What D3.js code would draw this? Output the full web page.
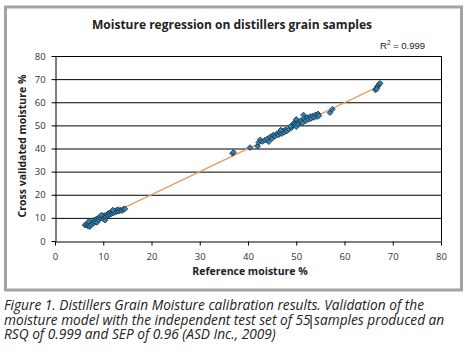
<!DOCTYPE html>
<html lang="en">
<head>
    <meta charset="UTF-8">
    <title>Moisture regression</title>
    <script src="https://cdn.jsdelivr.net/npm/d3@7/dist/d3.min.js"></script>
    <style>
        body { margin: 0; background: #fff; }
    </style>
</head>
<body>
<script type="application/javascript">
    // 参考值 vs 交叉验证值
    const lowCluster = [
        [6.2, 6.8], [6.5, 7.2], [6.8, 6.5], [7.0, 7.5], [7.2, 6.2], [7.4, 7.9], [7.5, 7.0],
        [7.8, 8.1], [8.0, 7.6], [8.1, 9.0], [8.3, 8.4], [8.5, 9.4], [8.7, 8.0], [8.9, 9.8],
        [9.0, 9.2], [9.2, 10.1], [9.5, 9.7], [9.8, 10.4], [10.0, 10.8], [10.1, 9.4], [10.3, 11.0],
        [10.4, 9.0], [10.6, 10.5], [10.8, 11.5], [11.0, 10.9], [11.1, 12.0], [11.3, 11.4],
        [11.5, 12.3], [11.7, 11.8], [11.9, 12.5], [12.1, 12.1], [12.3, 13.0], [12.5, 12.4],
        [12.7, 13.3], [12.9, 12.8], [13.1, 13.6], [13.3, 12.9], [13.6, 13.4], [13.9, 13.1],
        [14.2, 13.8], [14.5, 13.9], [7.0, 8.5], [9.6, 11.2], [12.0, 13.4]
    ];
    const midPoints = [[36.8, 37.9], [37.0, 38.4], [40.4, 40.4]];
    const highCluster = [
        [42.0, 41.0], [42.2, 42.6], [42.5, 43.8], [43.0, 43.0], [43.5, 43.6], [44.0, 44.2],
        [44.3, 42.9], [44.6, 45.0], [45.0, 44.3], [45.2, 45.8], [45.6, 45.3], [46.0, 46.5],
        [46.3, 45.8], [46.6, 47.0], [47.0, 46.4], [47.2, 47.6], [47.5, 47.0], [47.8, 48.2],
        [48.0, 47.5], [48.5, 48.3], [49.0, 49.0], [49.3, 50.2], [49.6, 51.2], [49.8, 50.5],
        [50.0, 49.4], [50.2, 51.8], [50.4, 50.6], [50.8, 51.5], [51.0, 52.2], [51.3, 51.0],
        [51.5, 54.5], [51.7, 52.8], [52.0, 52.0], [52.3, 53.4], [52.6, 52.6], [52.9, 53.8],
        [53.1, 53.0], [53.4, 54.1], [53.7, 53.4], [54.0, 54.6], [54.3, 53.8], [54.5, 55.0],
        [54.7, 54.2], [50.0, 52.6], [48.8, 49.6], [46.8, 48.0],
        [57.0, 55.5], [57.5, 57.0]
    ];
    const topCluster = [
        [66.4, 65.3], [66.6, 66.0], [66.8, 66.8], [67.0, 67.2], [67.2, 67.9], [67.4, 68.2], [66.7, 65.8]
    ];
    const dataset = lowCluster.concat(midPoints, highCluster, topCluster);

    // 回归线端点
    const fitLine = [[6.0, 6.1], [67.2, 67.0]];

    const xTicks = [0, 10, 20, 30, 40, 50, 60, 70, 80];
    const yTicks = [0, 10, 20, 30, 40, 50, 60, 70, 80];

    const captionLines = [
        'Figure 1. Distillers Grain Moisture calibration results. Validation of the',
        'moisture model with the independent test set of 55 samples produced an',
        'RSQ of 0.999 and SEP of 0.96 (ASD Inc., 2009)'
    ];

    const w = 467, h = 352;
    const plot = {left: 55, right: 441, top: 56, bottom: 241};

    let svg = d3.select('body')
        .append('svg')
        .attr('width', w)
        .attr('height', h);

    // 外框
    svg.append('rect')
        .attr('x', 5.5).attr('y', 7)
        .attr('width', 456).attr('height', 283)
        .attr('fill', '#fff')
        .attr('stroke', '#a3a3a3')
        .attr('stroke-width', 3);

    let xScale = d3.scaleLinear().domain([0, 80]).range([plot.left, plot.right]);
    let yScale = d3.scaleLinear().domain([0, 80]).range([plot.bottom, plot.top]);

    // 网格线
    svg.append('g')
        .selectAll('line')
        .data(yTicks.slice(1))
        .enter()
        .append('line')
        .attr('x1', plot.left).attr('x2', plot.right)
        .attr('y1', d => yScale(d) + 0.5).attr('y2', d => yScale(d) + 0.5)
        .attr('stroke', '#000')
        .attr('stroke-width', 1);

    svg.append('line')
        .attr('x1', plot.right + 0.5).attr('x2', plot.right + 0.5)
        .attr('y1', plot.top).attr('y2', plot.bottom)
        .attr('stroke', '#000');

    let xAxis = d3.axisBottom(xScale).tickValues(xTicks).tickSize(4).tickSizeOuter(0);
    let yAxis = d3.axisLeft(yScale).tickValues(yTicks).tickSize(4).tickSizeOuter(0);

    let gx = svg.append('g')
        .attr('transform', `translate(0,${plot.bottom + 0.5})`)
        .call(xAxis);
    let gy = svg.append('g')
        .attr('transform', `translate(${plot.left + 0.5},0)`)
        .call(yAxis);

    [gx, gy].forEach(g => {
        g.select('.domain').attr('stroke', '#000');
        g.selectAll('.tick line').attr('stroke', '#000');
        g.selectAll('.tick text')
            .attr('font-family', 'Open Sans, sans-serif')
            .attr('font-size', '9.5px')
            .attr('fill', '#333');
    });
    gx.selectAll('.tick text').attr('dy', '1.2em');
    gy.selectAll('.tick text').attr('dx', '-0.3em');

    // 回归线
    svg.append('line')
        .attr('x1', xScale(fitLine[0][0])).attr('y1', yScale(fitLine[0][1]))
        .attr('x2', xScale(fitLine[1][0])).attr('y2', yScale(fitLine[1][1]))
        .attr('stroke', '#e0a06a')
        .attr('stroke-width', 1.5);

    // 菱形点
    svg.append('g')
        .selectAll('path')
        .data(dataset)
        .enter()
        .append('path')
        .attr('d', d3.symbol().type(d3.symbolDiamond2).size(20))
        .attr('transform', d => `translate(${xScale(d[0])},${yScale(d[1])})`)
        .attr('fill', '#3580ad')
        .attr('stroke', '#132f45')
        .attr('stroke-width', 0.8);

    // 标题
    svg.append('text')
        .text('Moisture regression on distillers grain samples')
        .attr('x', 232).attr('y', 29)
        .attr('text-anchor', 'middle')
        .attr('font-family', 'Open Sans, sans-serif')
        .attr('font-weight', 'bold')
        .attr('font-size', '12px')
        .attr('fill', '#222');

    let r2 = svg.append('text')
        .attr('x', 380).attr('y', 49)
        .attr('font-family', 'Liberation Sans, Arial, sans-serif')
        .attr('font-size', '9.5px')
        .attr('fill', '#222');
    r2.append('tspan').text('R');
    r2.append('tspan').text('2').attr('font-size', '6.5px').attr('dy', '-4');
    r2.append('tspan').text(' = 0.999').attr('dy', '4');

    svg.append('text')
        .text('Reference moisture %')
        .attr('x', 250).attr('y', 275)
        .attr('text-anchor', 'middle')
        .attr('font-family', 'Open Sans, sans-serif')
        .attr('font-weight', 'bold')
        .attr('font-size', '10.5px')
        .attr('fill', '#222');

    svg.append('text')
        .text('Cross validated moisture %')
        .attr('transform', 'translate(26,146) rotate(-90)')
        .attr('text-anchor', 'middle')
        .attr('font-family', 'Open Sans, sans-serif')
        .attr('font-weight', 'bold')
        .attr('font-size', '10.5px')
        .attr('fill', '#222');

    // 图注
    let caps = svg.append('g')
        .selectAll('text')
        .data(captionLines)
        .enter()
        .append('text')
        .text(d => d)
        .attr('x', 4)
        .attr('y', (d, i) => 310 + i * 14.5)
        .attr('font-family', 'Open Sans, sans-serif')
        .attr('font-style', 'italic')
        .attr('font-size', '13.7px')
        .attr('fill', '#222');

    // 第二行 "55" 后的光标竖线
    let line2 = caps.nodes()[1];
    let cut = captionLines[1].indexOf('55') + 2;
    let cx = 4 + line2.getSubStringLength(0, cut) + 0.5;
    svg.append('line')
        .attr('x1', cx).attr('x2', cx)
        .attr('y1', 315).attr('y2', 329)
        .attr('stroke', '#000')
        .attr('stroke-width', 1);
</script>
</body>
</html>
